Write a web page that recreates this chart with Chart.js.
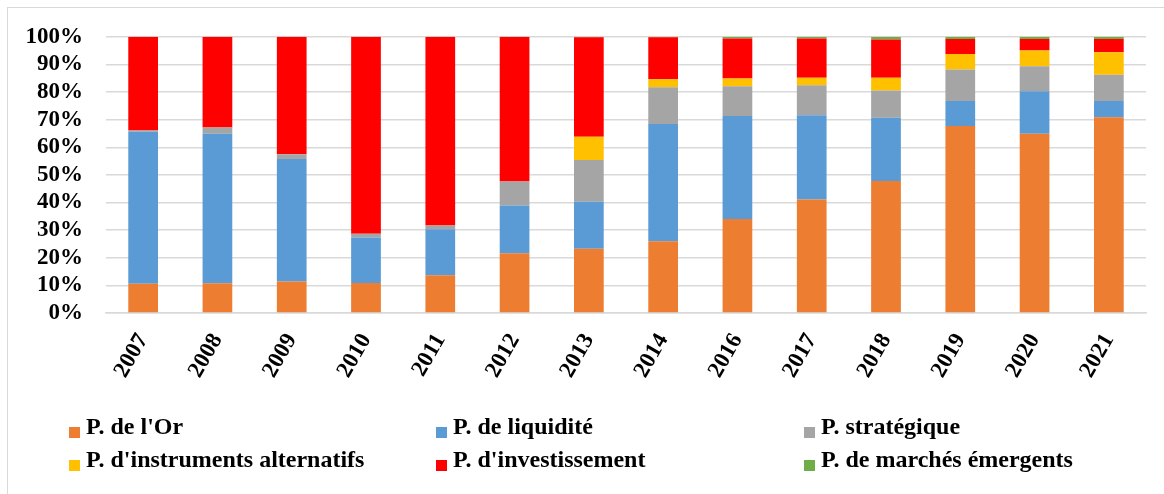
<!DOCTYPE html>
<html>
<head>
<meta charset="utf-8">
<script src="https://cdn.jsdelivr.net/npm/chart.js@4.4.1/dist/chart.umd.min.js"></script>
<style>
  html, body { margin:0; padding:0; background:#fff; }
  #wrap { position:relative; width:1164px; height:494px; overflow:hidden; }
  #frame { position:absolute; left:7px; top:7px; width:1200px; height:600px;
           border-top:1.5px solid #D9D9D9; border-left:1.5px solid #D9D9D9; }
  canvas { position:absolute; left:0; top:0; }
  .lg { position:absolute; font-family:'Liberation Serif','Times New Roman',serif;
        font-weight:bold; font-size:24px; line-height:24px; color:#000; white-space:nowrap; }
  .lg i { position:absolute; left:0; top:13px; width:11px; height:11px; }
  .lg span { position:absolute; left:17px; top:0; }
</style>
</head>
<body>
<div id="wrap">
  <div id="frame"></div>
  <canvas id="c" width="1164" height="494"></canvas>
  <div id="legend"></div>
</div>
<script>
const categories = ['2007','2008','2009','2010','2011','2012','2013','2014','2016','2017','2018','2019','2020','2021'];
const seriesNames = ["P. de l'Or", "P. de liquidité", "P. stratégique", "P. d'instruments alternatifs", "P. d'investissement", "P. de marchés émergents"];
const orValues        = [10.6, 10.8, 11.4, 10.9, 13.7, 21.6, 23.3, 26.0, 34.0, 41.1, 47.8, 67.7, 64.9, 70.9];
const liquiditeValues = [55.0, 54.1, 44.4, 16.4, 16.6, 17.3, 17.0, 42.4, 37.3, 30.5, 22.9, 9.1, 15.4, 5.9];
const strategiqueValues = [0.5, 2.3, 1.7, 1.4, 1.4, 8.7, 15.1, 13.3, 10.8, 10.9, 9.9, 11.4, 9.0, 9.5];
const alternatifsValues = [0, 0, 0, 0, 0, 0, 8.4, 2.9, 2.8, 2.7, 4.6, 5.6, 5.7, 8.1];
const investissementValues = [33.9, 32.8, 42.5, 71.3, 68.3, 52.4, 36.0, 15.2, 14.5, 14.2, 13.8, 5.4, 4.2, 4.8];
const emergentsValues = [0, 0, 0, 0, 0, 0, 0.2, 0.2, 0.6, 0.6, 1.0, 0.8, 0.8, 0.8];
const yTicks = [0,10,20,30,40,50,60,70,80,90,100];

const colors = ['#ED7D31', '#5B9BD5', '#A5A5A5', '#FFC000', '#FF0000', '#70AD47'];
const allValues = [orValues, liquiditeValues, strategiqueValues, alternatifsValues, investissementValues, emergentsValues];

const font = { family: "'Liberation Serif','Times New Roman',serif", weight: 'bold', size: 23 };

const chart = new Chart(document.getElementById('c'), {
  type: 'bar',
  data: {
    labels: categories,
    datasets: seriesNames.map((n, i) => ({
      label: n,
      data: allValues[i],
      backgroundColor: colors[i],
      borderWidth: 0,
      barPercentage: 0.4,
      categoryPercentage: 1.0
    }))
  },
  options: {
    responsive: false,
    animation: false,
    devicePixelRatio: 1,
    layout: { padding: { left: 0, top: 36, right: 18, bottom: 0 } },
    plugins: { legend: { display: false }, tooltip: { enabled: false } },
    scales: {
      x: {
        stacked: true,
        grid: { display: false, drawTicks: false },
        border: { display: true, color: '#D9D9D9', width: 1.5 },
        ticks: { font: font, color: '#000', minRotation: 60, maxRotation: 60, padding: 16, autoSkip: false },
        afterFit: (s) => { s.height = 181; }
      },
      y: {
        stacked: true,
        min: 0, max: 100,
        afterBuildTicks: (s) => { s.ticks = yTicks.map(v => ({ value: v })); },
        grid: { color: '#D9D9D9', lineWidth: 1.5, drawTicks: false },
        border: { display: false },
        ticks: { font: font, color: '#000', padding: 23, autoSkip: false, callback: (v) => v + '%' },
        afterFit: (s) => { s.width = 106; }
      }
    }
  }
});

// HTML legend built from the chart's datasets
const legendPos = [[69, 414], [436, 414], [804, 414], [69, 447], [436, 447], [804, 447]];
const lg = document.getElementById('legend');
chart.data.datasets.forEach((ds, i) => {
  const d = document.createElement('div');
  d.className = 'lg';
  d.style.left = legendPos[i][0] + 'px';
  d.style.top = legendPos[i][1] + 'px';
  d.innerHTML = '<i style="background:' + ds.backgroundColor + '"></i><span></span>';
  d.querySelector('span').textContent = ds.label;
  lg.appendChild(d);
});
</script>
</body>
</html>
